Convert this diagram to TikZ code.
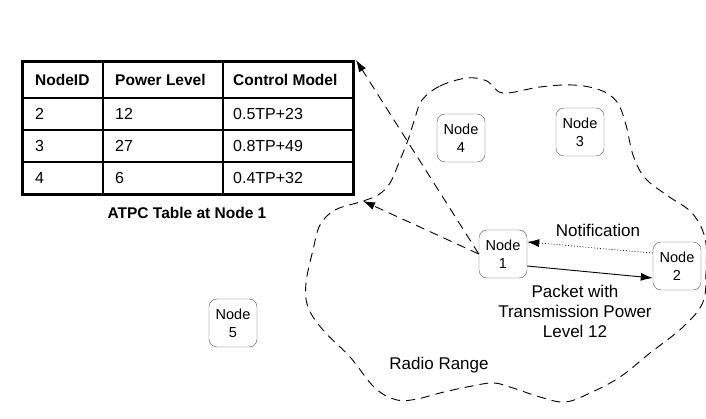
\documentclass[tikz,border=0pt]{standalone}
\usepackage{fontspec}
\setmainfont{Liberation Sans}
\usetikzlibrary{arrows.meta, positioning, calc}

\begin{document}
\begin{tikzpicture}[
    x=1pt, y=-1pt,
    mote/.style={rectangle, draw=black!65, fill=white, rounded corners=8pt, minimum height=48pt, minimum width=48pt, inner sep=0pt, align=center, font=\fontsize{14.5}{18}\selectfont},
    cell/.style={anchor=west, inner sep=0pt, font=\fontsize{16}{19}\selectfont},
    headcell/.style={cell, font=\fontsize{15.5}{19}\selectfont\bfseries},
    note/.style={align=center, inner sep=0pt, font=\fontsize{17}{20}\selectfont},
    arrow/.style={-{Latex[length=12pt, width=8pt]}, line width=0.9pt},
    rangeline/.style={dash pattern=on 9pt off 6pt, line width=0.9pt}
]
    \useasboundingbox (0,0) rectangle (706,419);

    % Radio range
    \draw[rangeline] plot[smooth cycle, tension=0.6] coordinates {
        (422,100) (440,86) (467,78) (487,81) (503,93) (540,87) (573,85) (600,90)
        (617,102) (626,125) (633,155) (645,178) (668,196) (692,213) (705,238)
        (706,270) (703,302) (683,327) (650,353) (620,377) (590,393) (565,402)
        (540,397) (513,388) (493,383) (467,387) (440,393) (417,399) (397,400)
        (375,388) (350,357) (323,330) (308,307) (306,283) (313,250) (320,225)
        (335,210) (360,202) (378,195) (390,183) (400,160) (408,140) (415,118)};
    \node[note] (range) at (439,365) {Radio Range};

    % ATPC table
    \draw[line width=3pt] (22,62) rectangle (353,195);
    \draw[line width=1.5pt] (103,62) -- (103,195) (223,62) -- (223,195);
    \draw[line width=1.5pt] (22,98) -- (353,98) (22,130) -- (353,130) (22,162) -- (353,162);
    \coordinate (tabNE) at (356,60);
    \coordinate (tabSE) at (363,201);

    \node[headcell] (hid) at (35,80) {NodeID};
    \node[headcell] (hpow) at (115,80) {Power Level};
    \node[headcell] (hmod) at (233,80) {Control Model};
    \node[cell] (id2) at (35,114) {2};
    \node[cell] (pow2) at (115,114) {12};
    \node[cell] (mod2) at (233,114) {0.5TP+23};
    \node[cell] (id3) at (35,146) {3};
    \node[cell] (pow3) at (115,146) {27};
    \node[cell] (mod3) at (233,146) {0.8TP+49};
    \node[cell] (id4) at (35,178) {4};
    \node[cell] (pow4) at (115,178) {6};
    \node[cell] (mod4) at (233,178) {0.4TP+32};
    \node[headcell, anchor=center] (cap) at (187,213) {ATPC Table at Node 1};

    % Nodes
    \node[mote] (n1) at (503,254) {Node\\1};
    \node[mote] (n2) at (677,266) {Node\\2};
    \node[mote] (n3) at (580,132) {Node\\3};
    \node[mote] (n4) at (461,138) {Node\\4};
    \node[mote] (n5) at (233,323) {Node\\5};

    % Table lookup
    \draw[arrow, rangeline] (n1.west) -- (tabNE);
    \draw[arrow, rangeline] (n1.west) -- (tabSE);

    % Exchange between node 1 and node 2
    \draw[arrow] ([yshift=-12pt]n1.east) -- ([yshift=-12pt]n2.west);
    \draw[arrow, dotted, line width=0.7pt] ([yshift=13pt]n2.west) -- ([yshift=12pt]n1.east);
    \node[note] (notif) at (598,230) {Notification};
    \node[note] (pkt) at (575,311) {Packet with\\Transmission Power\\Level 12};
\end{tikzpicture}
\end{document}
